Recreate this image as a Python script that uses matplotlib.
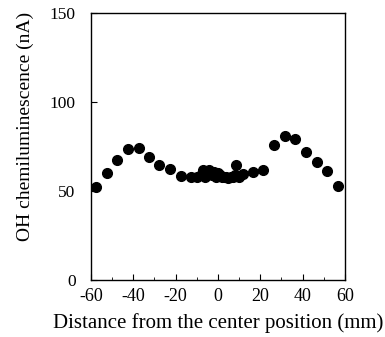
import matplotlib
matplotlib.use("Agg")
import matplotlib.pyplot as plt

plt.rcParams['font.family'] = ['Liberation Serif', 'DejaVu Serif']

distance_mm = [-57.8, -52.6, -47.6, -42.4, -37.5, -32.4, -27.6, -22.5, -17.5, -12.5,
               -10, -8, -7, -6, -5, -4, -3, -2, -1, 0, 1, 2, 3, 4, 5, 6, 7, 8, 8.5, 10, 11.9,
               16.5, 21.4, 26.4, 31.5, 36.5, 41.6, 46.6, 51.5, 56.5]
oh_nA = [52.4, 60.3, 67.4, 73.6, 74.2, 69.3, 64.6, 62.5, 58.4, 57.7,
         58.0, 59.0, 62.0, 58.0, 61.0, 62.0, 59.0, 61.0, 58.0, 60.0, 59.0, 58.0, 58.0, 58.0, 57.5, 58.0, 58.0, 59.0, 64.4, 58.0, 59.6,
         60.9, 61.8, 76.0, 80.9, 79.4, 72.1, 66.1, 61.2, 53.0]

x_ticks = [-60, -40, -20, 0, 20, 40, 60]
y_ticks = [0, 50, 100, 150]

fig = plt.figure(figsize=(3.85, 3.37), dpi=100)
ax = fig.add_axes([0.236, 0.169, 0.66, 0.792])
ax.plot(distance_mm, oh_nA, 'o', color='black', ms=7, mec='black')
ax.set_xlim(-60, 60)
ax.set_ylim(0, 150)
ax.set_xticks(x_ticks)
ax.set_xticklabels([str(v) for v in x_ticks])
ax.set_yticks(y_ticks)
ax.set_xticks(range(-50, 60, 20), minor=True)
ax.tick_params(direction='in', length=4, width=0.8)
ax.tick_params(axis='x', pad=6, labelsize=13)
ax.tick_params(axis='y', pad=11, labelsize=12.5)
ax.tick_params(which='minor', direction='in', length=2)
ax.set_xlabel('Distance from the center position (mm)', fontsize=15)
ax.set_ylabel('OH chemiluminescence (nA)', fontsize=14)
ax.xaxis.set_label_coords(0.5, -0.125)
ax.yaxis.set_label_coords(-0.225, 0.577)
for s in ax.spines.values():
    s.set_linewidth(1.0)
fig.savefig('out.png', dpi=100)
